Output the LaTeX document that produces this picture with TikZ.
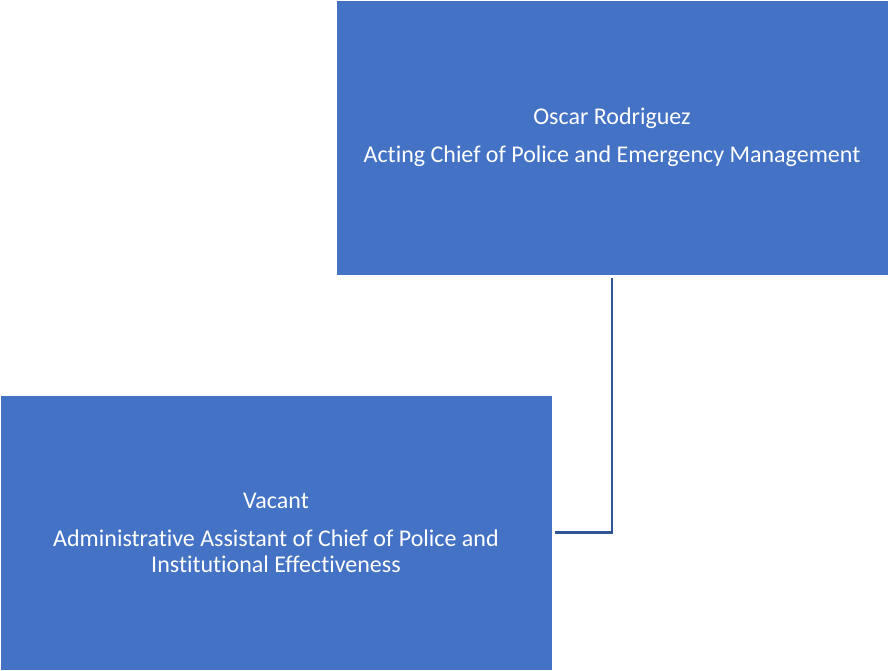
\documentclass[tikz,border=0pt]{standalone}
\usepackage{fontspec}
\setmainfont[Ligatures=NoCommon]{Carlito}
\usepackage{xcolor}
\usetikzlibrary{positioning}
\definecolor{boxblue}{HTML}{4472C4}
\definecolor{lineblue}{HTML}{2F5597}
\tikzstyle{post}=[fill=boxblue, draw=white, line width=0.8pt, text=white, align=center, minimum width=552pt, minimum height=275pt, inner sep=0pt, font=\fontsize{24}{26}\selectfont]

\begin{document}
\begin{tikzpicture}[x=1pt, y=1pt]
  	\useasboundingbox (0,0) rectangle (888,670);
  	\node[post] (chief) at (612,532.5) {Oscar Rodriguez\\[12pt]Acting Chief of Police and Emergency Management};
  	\node[post] (vacant) at (276,137.5) {Vacant\\[12pt]Administrative Assistant of Chief of Police and\\Institutional Effectiveness};
		\draw[lineblue, line width=2.2pt, shorten <=3pt, shorten >=3pt] (chief.south) |- (vacant.east);
  \end{tikzpicture}
\end{document}
